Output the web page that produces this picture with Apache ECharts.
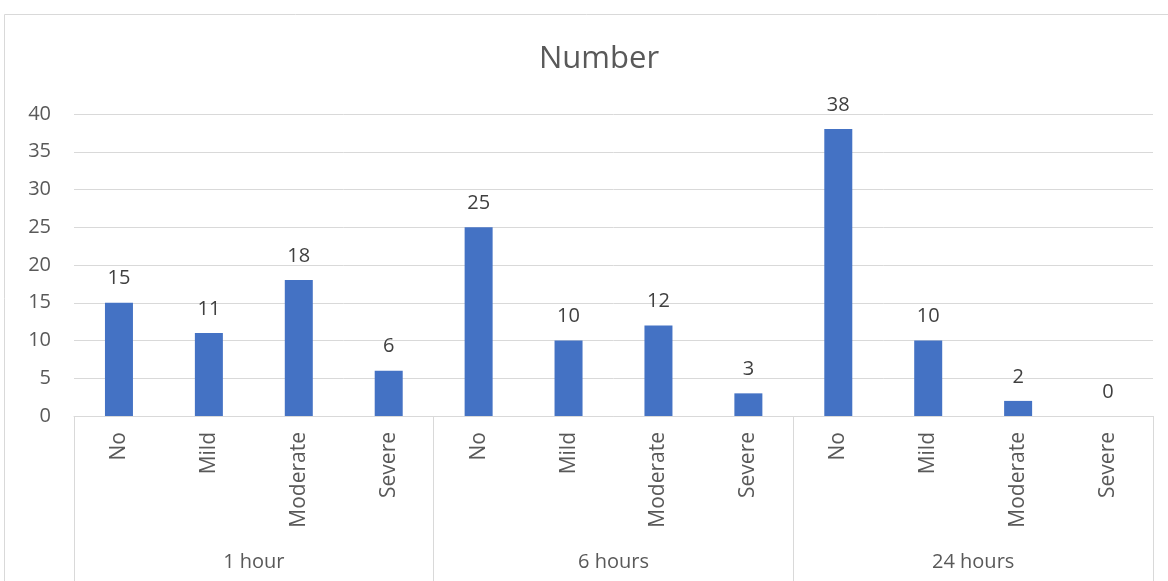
<!DOCTYPE html>
<html><head><meta charset="utf-8">
<script src="https://cdn.jsdelivr.net/npm/echarts@6/dist/echarts.min.js"></script>
<style>html,body{margin:0;padding:0;background:#fff}#c{width:1168px;height:581px}</style>
</head><body><div id="c"></div>
<script>
const categories = ['No','Mild','Moderate','Severe','No','Mild','Moderate','Severe','No','Mild','Moderate','Severe'];
const groups = ['1 hour','6 hours','24 hours'];
const values = [15,11,18,6,25,10,12,3,38,10,2,0];
const yTicks = {min:0,max:40,interval:5};

const chart = echarts.init(document.getElementById('c'));
const font = '"Open Sans","Noto Sans",sans-serif';
chart.setOption({
  animation:false,
  textStyle:{fontFamily:font},
  title:{text:'Number',left:534,top:39,textStyle:{fontFamily:font,fontSize:31,fontWeight:'normal',color:'#595959'}},
  graphic:[{type:'rect',shape:{x:4.5,y:14.5,width:1200,height:600},style:{fill:'none',stroke:'#d9d9d9',lineWidth:1},silent:true,z:-1}],
  grid:{left:74,right:15,top:114,bottom:165},
  xAxis:[
    {type:'category',data:categories,axisLine:{lineStyle:{color:'#d9d9d9'}},axisTick:{show:false},
     axisLabel:{rotate:90,interval:0,fontSize:21,color:'#595959',margin:16,fontFamily:font}},
    {type:'category',data:groups,position:'bottom',axisLine:{show:false},
     axisTick:{show:true,length:165,interval:0,lineStyle:{color:'#d9d9d9'}},
     axisLabel:{interval:0,fontSize:20,color:'#595959',margin:136,fontFamily:font}}
  ],
  yAxis:{type:'value',min:yTicks.min,max:yTicks.max,interval:yTicks.interval,
    axisLine:{show:false},axisTick:{show:false},
    splitLine:{lineStyle:{color:'#d9d9d9'}},
    axisLabel:{fontSize:20,color:'#595959',margin:23,fontFamily:font}},
  series:[{type:'bar',data:values,xAxisIndex:0,barWidth:28,itemStyle:{color:'#4472C4'},
    label:{show:true,position:'top',distance:14,fontSize:20,color:'#404040',fontFamily:font}}]
});
</script></body></html>
